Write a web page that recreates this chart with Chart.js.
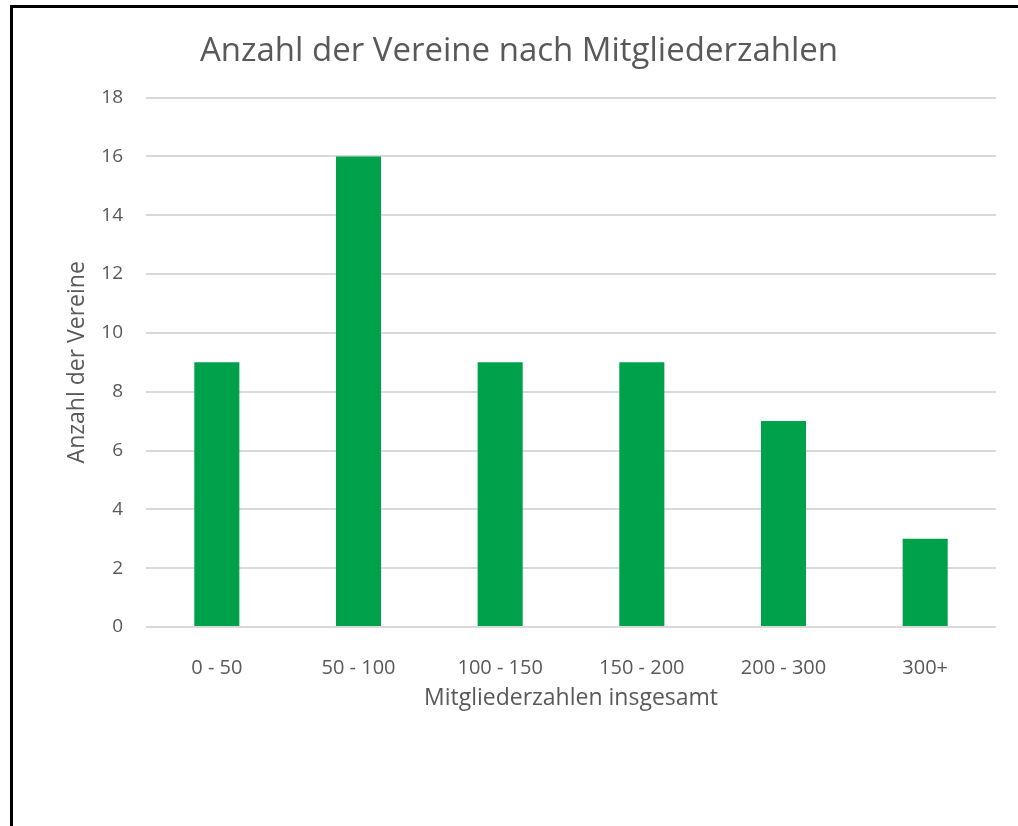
<!DOCTYPE html>
<html>
<head>
<meta charset="utf-8">
<script src="https://cdn.jsdelivr.net/npm/chart.js@4/dist/chart.umd.min.js"></script>
<style>
  html, body { margin: 0; padding: 0; background: #fff; overflow: hidden; }
  #wrap { position: relative; width: 1018px; height: 826px; }
  #chart { position: absolute; left: 0; top: 0; }
  #frame {
    position: absolute; left: 10px; top: 5px; width: 1020px; height: 830px;
    border-left: 3px solid #000; border-top: 3px solid #000; pointer-events: none;
  }
</style>
</head>
<body>
<div id="wrap">
  <canvas id="chart" width="1018" height="826"></canvas>
  <div id="frame"></div>
</div>
<script>
// Daten aus dem Diagramm
const categories = ['0 - 50', '50 - 100', '100 - 150', '150 - 200', '200 - 300', '300+'];
const vereine = [9, 16, 9, 9, 7, 3];
const yTicks = [0, 2, 4, 6, 8, 10, 12, 14, 16, 18];

const textColor = '#595959';
const fontFamily = "'Open Sans', 'Noto Sans', sans-serif";

var chart = new Chart(document.getElementById('chart'), {
  type: 'bar',
  data: {
    labels: categories,
    datasets: [{
      label: 'Anzahl der Vereine',
      data: vereine,
      backgroundColor: '#00A14B',
      borderWidth: 0,
      categoryPercentage: 1,
      barPercentage: 0.318
    }]
  },
  options: {
    responsive: false,
    animation: false,
    layout: { padding: { left: 42, right: 22, top: 0, bottom: 99 } },
    plugins: {
      legend: { display: false },
      tooltip: { enabled: false },
      title: {
        display: true,
        text: 'Anzahl der Vereine nach Mitgliederzahlen',
        color: textColor,
        font: { family: fontFamily, size: 33, weight: 400 },
        padding: { top: 32, bottom: 26 }
      }
    },
    scales: {
      x: {
        grid: { display: false },
        border: { display: false },
        ticks: { color: textColor, font: { family: fontFamily, size: 20 }, padding: 21 },
        title: {
          display: true,
          text: 'Mitgliederzahlen insgesamt',
          color: textColor,
          font: { family: fontFamily, size: 23 },
          padding: { top: 0, bottom: 15 }
        },
        afterFit: function (scale) { scale.height = 100; }
      },
      y: {
        min: 0,
        max: 18,
        afterBuildTicks: function (scale) {
          scale.ticks = yTicks.map(function (v) { return { value: v }; });
        },
        grid: { color: '#d9d9d9', lineWidth: 2, drawTicks: false },
        border: { display: false },
        ticks: { color: textColor, font: { family: fontFamily, size: 19 }, padding: 23 },
        title: {
          display: true,
          text: 'Anzahl der Vereine',
          color: textColor,
          font: { family: fontFamily, size: 23 },
          padding: { top: 22, bottom: 0 }
        },
        afterFit: function (scale) { scale.width = 104; }
      }
    }
  }
});
</script>
</body>
</html>
